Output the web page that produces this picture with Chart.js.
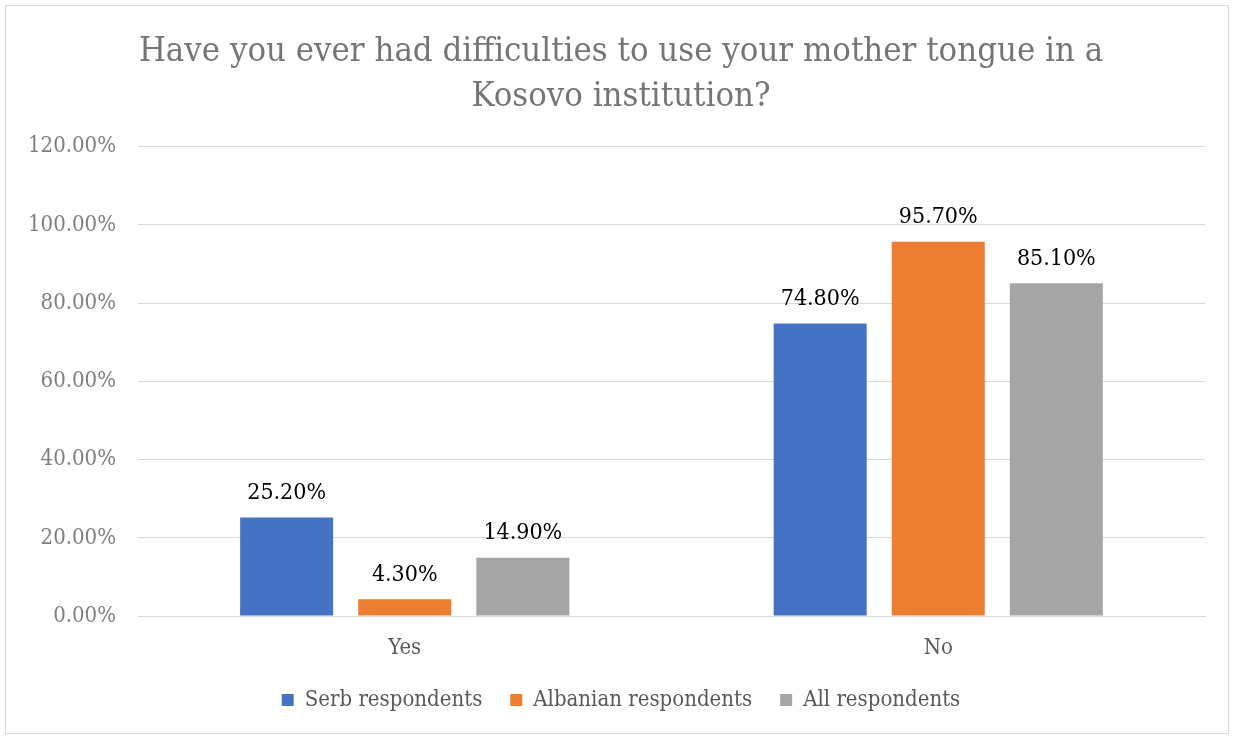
<!DOCTYPE html>
<html>
<head>
<meta charset="utf-8">
<script src="https://cdn.jsdelivr.net/npm/chart.js@4.4.0/dist/chart.umd.min.js"></script>
<style>
  html, body { margin: 0; padding: 0; background: #fff; }
  #wrap {
    position: absolute; left: 5px; top: 5px; width: 1224px; height: 729px;
    border: 1px solid #d9d9d9; box-sizing: border-box;
  }
  #c { position: absolute; left: -6px; top: -6px; }
</style>
</head>
<body>
<div id="wrap"><canvas id="c" width="1236" height="736"></canvas></div>
<script>
// dados
const categories = ["Yes", "No"];
const serb = [25.2, 74.8];
const albanian = [4.3, 95.7];
const all = [14.9, 85.1];
const yTicks = [0, 20, 40, 60, 80, 100, 120];

const fontFamily = "'DejaVu Serif Condensed', 'DejaVu Serif', serif";

// rótulos em cima das barras
const valueLabels = {
  id: "valueLabels",
  afterDatasetsDraw(chart) {
    const ctx = chart.ctx;
    ctx.save();
    ctx.font = "23px " + fontFamily;
    ctx.fillStyle = "#000";
    ctx.textAlign = "center";
    ctx.textBaseline = "bottom";
    chart.data.datasets.forEach((ds, i) => {
      chart.getDatasetMeta(i).data.forEach((bar, j) => {
        ctx.fillText(ds.data[j].toFixed(2) + "%", bar.x, bar.y - 13);
      });
    });
    ctx.restore();
  },
};

new Chart(document.getElementById("c"), {
  type: "bar",
  data: {
    labels: categories,
    datasets: [
      { label: "Serb respondents", data: serb, backgroundColor: "#4472c4" },
      { label: "Albanian respondents", data: albanian, backgroundColor: "#ed7d31" },
      { label: "All respondents", data: all, backgroundColor: "#a5a5a5" },
    ],
  },
  options: {
    responsive: false,
    animation: false,
    layout: { padding: { left: 6, right: 0, top: 0, bottom: 15 } },
    datasets: {
      bar: { categoryPercentage: 0.664, barPercentage: 0.788 },
    },
    plugins: {
      title: {
        display: true,
        text: ["Have you ever had difficulties to use your mother tongue in a", "Kosovo institution?"],
        color: "#757575",
        font: { family: fontFamily, size: 34.4, weight: "normal", lineHeight: 1.29 },
        padding: { top: 30, bottom: 28 },
      },
      legend: {
        position: "bottom",
        labels: {
          color: "#595959",
          font: { family: fontFamily, size: 22 },
          boxWidth: 12,
          boxHeight: 12,
          padding: 28,
        },
      },
      tooltip: { enabled: false },
    },
    scales: {
      x: {
        grid: { display: false },
        border: { color: "#d9d9d9" },
        afterFit: (scale) => { scale.height = 45; },
        ticks: { color: "#595959", font: { family: fontFamily, size: 22 }, padding: 11 },
      },
      y: {
        min: 0,
        max: 120,
        afterBuildTicks: (scale) => { scale.ticks = yTicks.map((v) => ({ value: v })); },
        afterFit: (scale) => { scale.width = 132; },
        grid: { color: "#d9d9d9", drawTicks: false },
        border: { display: false },
        ticks: {
          color: "#7f7f7f",
          font: { family: fontFamily, size: 22 },
          padding: 22,
          callback: (v) => v.toFixed(2) + "%",
        },
      },
      // eixo vazio só para reservar a margem da direita
      yRight: {
        position: "right",
        grid: { display: false },
        border: { display: false },
        ticks: { display: false },
        afterFit: (scale) => { scale.width = 31; },
      },
    },
  },
  plugins: [valueLabels],
});
</script>
</body>
</html>
